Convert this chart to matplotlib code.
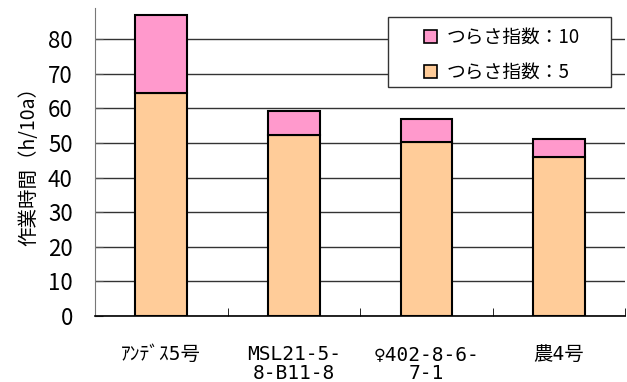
import numpy as np
import matplotlib
matplotlib.use("Agg")
import matplotlib.pyplot as plt
from matplotlib.patches import Rectangle

plt.rcParams['font.family'] = ['Noto Sans CJK JP', 'DejaVu Sans']

# data
varieties = ["ｱﾝﾃﾞｽ5号", "MSL21-5-\n8-B11-8", "♀402-8-6-\n7-1", "農4号"]
index5 = [64.5, 52.3, 50.4, 45.8]        # つらさ指数:5
index10 = [22.6, 6.9, 6.4, 5.2]          # つらさ指数:10 (stacked on top)
label5 = "つらさ指数：5"
label10 = "つらさ指数：10"

fig = plt.figure(figsize=(6.27, 3.82), dpi=100)
ax = fig.add_axes([0.1515, 0.173, 0.846, 0.806])

x = np.arange(len(varieties))
ax.yaxis.grid(True, color='#333333', linewidth=1.0)
ax.set_axisbelow(True)

b5 = ax.bar(x, index5, width=0.39, color='#FFCC99', edgecolor='black',
            linewidth=1.5, label=label5, zorder=3)
b10 = ax.bar(x, index10, width=0.39, bottom=index5, color='#FF99CC',
             edgecolor='black', linewidth=1.5, label=label10, zorder=3)

ax.set_xlim(-0.5, 3.5)
ax.set_ylim(0, 89)
ax.set_yticks(np.arange(0, 81, 10))
ax.tick_params(axis='y', direction='in', length=6, pad=16, labelsize=16,
               color='#555555')

ax.set_xticks(x)
ax.set_xticklabels(varieties, family=['DejaVu Sans Mono', 'Noto Sans CJK JP'],
                   fontsize=14, linespacing=1.0)
ax.tick_params(axis='x', length=0, pad=21)
ax.set_xticks(np.arange(0.5, 4, 1), minor=True)
ax.tick_params(axis='x', which='minor', direction='in', length=6, color='black')

for s in ['top', 'right']:
    ax.spines[s].set_visible(False)
ax.spines['left'].set_color('#777777')
ax.spines['bottom'].set_color('black')
ax.spines['bottom'].set_linewidth(1.2)

ax.set_ylabel("作業時間（h/10a）", fontsize=14, labelpad=6)

# legend frame drawn separately: the original box is wider than its content
W, H = 627, 382
frame = Rectangle((388 / W, 1 - 87 / H), 223 / W, 70 / H,
                  transform=fig.transFigure, facecolor='white',
                  edgecolor='#333333', linewidth=1.0, zorder=4)
ax.add_patch(frame)
frame.set_clip_on(False)

leg = ax.legend(handles=[b10, b5], loc='upper left',
                bbox_to_anchor=(424 / W, 1 - 27 / H), bbox_transform=fig.transFigure,
                fontsize=13.5, frameon=False, handlelength=0.7, handleheight=0.7,
                handletextpad=0.5, borderpad=0.0, labelspacing=0.75,
                borderaxespad=0)
leg.set_zorder(5)
for p in leg.get_patches():
    p.set_linewidth(1.2)

fig.savefig("out.png", dpi=100)
